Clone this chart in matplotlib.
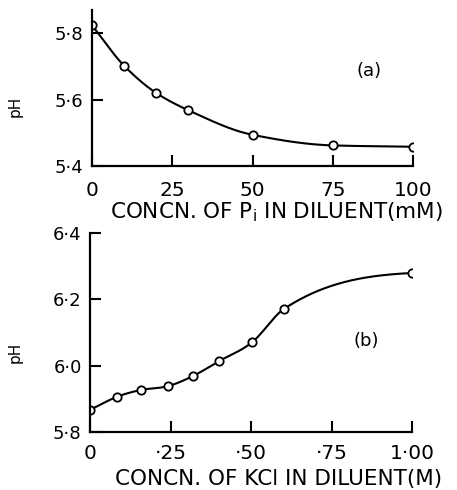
import numpy as np
import matplotlib
matplotlib.use("Agg")
import matplotlib.pyplot as plt

# (a) pH vs Pi concentration in diluent (mM)
pi_conc = [0, 10, 20, 30, 50, 75, 100]
ph_a = [5.824, 5.702, 5.620, 5.568, 5.494, 5.462, 5.458]
xticks_a = [0, 25, 50, 75, 100]
xlabels_a = ["0", "25", "50", "75", "100"]
yticks_a = [5.4, 5.6, 5.8]
ylabels_a = ["5·4", "5·6", "5·8"]

# (b) pH vs KCl concentration in diluent (M)
kcl_conc = [0, 0.085, 0.157, 0.243, 0.321, 0.40, 0.504, 0.602, 1.00]
ph_b = [5.866, 5.906, 5.926, 5.938, 5.969, 6.013, 6.071, 6.171, 6.280]
xticks_b = [0, 0.25, 0.5, 0.75, 1.0]
xlabels_b = ["0", "·25", "·50", "·75", "1·00"]
yticks_b = [5.8, 6.0, 6.2, 6.4]
ylabels_b = ["5·8", "6·0", "6·2", "6·4"]


def hermite(x, y, m, xs):
    h = np.diff(x)
    idx = np.clip(np.searchsorted(x, xs) - 1, 0, len(x) - 2)
    t = (xs - x[idx]) / h[idx]
    h00 = 2 * t**3 - 3 * t**2 + 1
    h10 = t**3 - 2 * t**2 + t
    h01 = -2 * t**3 + 3 * t**2
    h11 = t**3 - t**2
    return h00 * y[idx] + h10 * h[idx] * m[idx] + h01 * y[idx + 1] + h11 * h[idx] * m[idx + 1]


def pchip(x, y, xs):
    # monotone cubic through the points (smooth hand-drawn line)
    x = np.asarray(x, float)
    y = np.asarray(y, float)
    h = np.diff(x)
    d = np.diff(y) / h
    m = np.zeros_like(y)
    for k in range(1, len(x) - 1):
        if d[k - 1] * d[k] > 0:
            w1 = 2 * h[k] + h[k - 1]
            w2 = h[k] + 2 * h[k - 1]
            m[k] = (w1 + w2) / (w1 / d[k - 1] + w2 / d[k])
    m[0] = d[0]
    m[-1] = d[-1]
    return hermite(x, y, m, xs)


def fd_curve(x, y, xs, s0, s1):
    # hermite curve, slopes = mean of neighbouring secants, given end slopes
    x = np.asarray(x, float)
    y = np.asarray(y, float)
    d = np.diff(y) / np.diff(x)
    m = np.empty_like(y)
    m[1:-1] = (d[:-1] + d[1:]) / 2
    m[0], m[-1] = s0, s1
    return hermite(x, y, m, xs)


plt.rcParams['font.family'] = ['DejaVu Sans']
fig = plt.figure(figsize=(4.57, 4.90), dpi=100)


def style(ax, xpad):
    for s in ["top", "right"]:
        ax.spines[s].set_visible(False)
    for s in ["left", "bottom"]:
        ax.spines[s].set_linewidth(1.6)
    ax.tick_params(direction="in", length=8, width=1.5)
    ax.tick_params(axis="x", labelsize=14.5, pad=xpad)
    ax.tick_params(axis="y", labelsize=13, pad=6)


# panel (a)
ax1 = fig.add_axes([92 / 457, 1 - 166 / 490, 321 / 457, 156 / 490])
xs = np.linspace(0, 100, 400)
ax1.plot(xs, pchip(pi_conc, ph_a, xs), color="black", lw=1.5)
ax1.plot(pi_conc, ph_a, "o", mfc="white", mec="black", ms=6, mew=1.3)
ax1.set_xlim(0, 100)
ax1.set_ylim(5.4, 5.87)
ax1.set_xticks(xticks_a, xlabels_a)
ax1.set_yticks(yticks_a, ylabels_a)
style(ax1, 11)
ax1.set_xlabel("CONCN. OF P$_\\mathregular{i}$ IN DILUENT(mM)", fontsize=15.5, labelpad=0)
ax1.xaxis.set_label_coords(0.573, -0.222)
ax1.xaxis.label.set_va("top")
ax1.set_ylabel("pH", fontsize=11)
ax1.yaxis.set_label_coords(-0.215, 0.38)
ax1.text(0.825, 0.58, "(a)", transform=ax1.transAxes, fontsize=13, va="baseline")

# panel (b)
ax2 = fig.add_axes([90 / 457, 1 - 431.7 / 490, 322 / 457, 198.4 / 490])
xs = np.linspace(0, 1.0, 400)
ax2.plot(xs, fd_curve(kcl_conc, ph_b, xs, 0.47, 0.05), color="black", lw=1.5)
ax2.plot(kcl_conc, ph_b, "o", mfc="white", mec="black", ms=6, mew=1.3)
ax2.set_xlim(0, 1.0)
ax2.set_ylim(5.8, 6.4)
ax2.set_xticks(xticks_b, xlabels_b)
ax2.set_yticks(yticks_b, ylabels_b)
style(ax2, 9)
ax2.set_xlabel("CONCN. OF KCl IN DILUENT(M)", fontsize=15.5, labelpad=0)
ax2.xaxis.set_label_coords(0.587, -0.19)
ax2.xaxis.label.set_va("top")
ax2.set_ylabel("pH", fontsize=11)
ax2.yaxis.set_label_coords(-0.21, 0.4)
ax2.text(0.817, 0.43, "(b)", transform=ax2.transAxes, fontsize=13, va="baseline")

fig.savefig("out.png", dpi=100)
